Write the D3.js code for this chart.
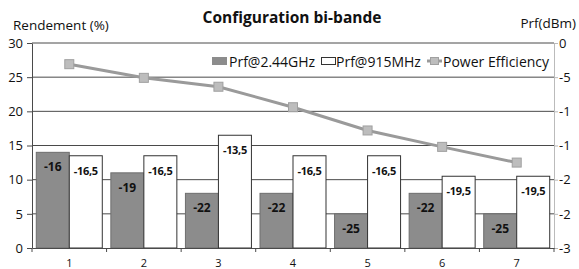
<!DOCTYPE html>
<html>
<head>
<meta charset="utf-8">
<script src="https://cdn.jsdelivr.net/npm/d3@7"></script>
<style>
  body { margin: 0; background: #fff; }
  svg text { font-family: "Open Sans", "DejaVu Sans", sans-serif; fill: #111; }
</style>
</head>
<body>
<div id="chart"></div>
<script>
// data
var categories = ["1", "2", "3", "4", "5", "6", "7"];
var prf244 = [-16, -19, -22, -22, -25, -22, -25];
var prf915 = [-16.5, -16.5, -13.5, -16.5, -16.5, -19.5, -19.5];
var efficiency = [26.9, 24.9, 23.6, 20.6, 17.2, 14.8, 12.5];
var leftTicks = [0, 5, 10, 15, 20, 25, 30];
var rightTicks = [0, -5, -10, -15, -20, -25, -30];
// right axis labels are clipped in the original
var rightTickLabels = ["0", "-5", "-1", "-1", "-2", "-2", "-3"];

var svgWidth = 579;
var svgHeight = 269;
var margin = { top: 43, right: 25, bottom: 21, left: 32 };
var width = svgWidth - margin.left - margin.right;
var height = svgHeight - margin.top - margin.bottom;

var svg = d3.select("#chart")
  .append("svg")
  .attr("width", svgWidth)
  .attr("height", svgHeight);

var chartGroup = svg.append("g")
  .attr("transform", `translate(${margin.left}, ${margin.top})`);

// scales
var xScale = d3.scaleBand()
  .domain(categories)
  .range([0, width])
  .paddingInner(0.115)
  .paddingOuter(0.0575);

var xSub = d3.scaleBand()
  .domain(["a", "b"])
  .range([0, xScale.bandwidth()]);

var yLeft = d3.scaleLinear().domain([0, 30]).range([height, 0]);
var yRight = d3.scaleLinear().domain([-30, 0]).range([height, 0]);

// gridlines
chartGroup.selectAll(".grid")
  .data(leftTicks.filter(d => d > 0))
  .enter()
  .append("line")
  .attr("x1", 0)
  .attr("x2", width)
  .attr("y1", d => yLeft(d))
  .attr("y2", d => yLeft(d))
  .attr("stroke", "#4a4a4a")
  .attr("stroke-width", 1);

// bars 2.44GHz
chartGroup.selectAll(".bar244")
  .data(prf244)
  .enter()
  .append("rect")
  .attr("x", (d, i) => xScale(categories[i]) + xSub("a"))
  .attr("y", d => yRight(d))
  .attr("width", xSub.bandwidth())
  .attr("height", d => height - yRight(d))
  .attr("fill", "#8c8c8c")
  .attr("stroke", "#6e6e6e")
  .attr("stroke-width", 1);

// bars 915MHz
chartGroup.selectAll(".bar915")
  .data(prf915)
  .enter()
  .append("rect")
  .attr("x", (d, i) => xScale(categories[i]) + xSub("b"))
  .attr("y", d => yRight(d))
  .attr("width", xSub.bandwidth())
  .attr("height", d => height - yRight(d))
  .attr("fill", "#fff")
  .attr("stroke", "#333")
  .attr("stroke-width", 1);

// bar labels
function fmt(v) { return String(v).replace(".", ","); }

chartGroup.selectAll(".lab244")
  .data(prf244)
  .enter()
  .append("text")
  .attr("x", (d, i) => xScale(categories[i]) + xSub("a") + xSub.bandwidth() / 2)
  .attr("y", d => yRight(d) + 19)
  .attr("text-anchor", "middle")
  .attr("font-size", "12px")
  .attr("font-weight", "bold")
  .text(d => fmt(d));

chartGroup.selectAll(".lab915")
  .data(prf915)
  .enter()
  .append("text")
  .attr("x", (d, i) => xScale(categories[i]) + xSub("b") + xSub.bandwidth() / 2)
  .attr("y", d => yRight(d) + 19)
  .attr("text-anchor", "middle")
  .attr("font-size", "11px")
  .attr("font-weight", "bold")
  .attr("letter-spacing", "-0.3px")
  .text(d => fmt(d));

// efficiency line
var line = d3.line()
  .x((d, i) => xScale(categories[i]) + xScale.bandwidth() / 2)
  .y(d => yLeft(d));

chartGroup.append("path")
  .datum(efficiency)
  .attr("d", line)
  .attr("fill", "none")
  .attr("stroke", "#9a9a9a")
  .attr("stroke-width", 3);

chartGroup.selectAll(".marker")
  .data(efficiency)
  .enter()
  .append("rect")
  .attr("x", (d, i) => xScale(categories[i]) + xScale.bandwidth() / 2 - 4.5)
  .attr("y", d => yLeft(d) - 4.5)
  .attr("width", 9)
  .attr("height", 9)
  .attr("fill", "#bdbdbd")
  .attr("stroke", "#a0a0a0")
  .attr("stroke-width", 1);

// left axis
var leftAxis = d3.axisLeft(yLeft).tickValues(leftTicks).tickSize(5).tickSizeOuter(0);
var gl = chartGroup.append("g").call(leftAxis);
gl.select(".domain").attr("stroke", "#4a4a4a");
gl.selectAll(".tick line").attr("stroke", "#4a4a4a");
gl.selectAll(".tick text").attr("font-size", "13px").attr("x", -9).attr("fill", "#111");

// right axis
var rightAxis = d3.axisRight(yRight).tickValues(rightTicks).tickSize(4).tickSizeOuter(0)
  .tickFormat((d, i) => rightTickLabels[i]);
var gr = chartGroup.append("g")
  .attr("transform", `translate(${width}, 0)`)
  .call(rightAxis);
gr.select(".domain").attr("stroke", "#bbb");
gr.selectAll(".tick line").attr("stroke", "#bbb");
gr.selectAll(".tick text").attr("font-size", "13px").attr("x", 5).attr("fill", "#111");

// bottom axis
var bottomAxis = d3.axisBottom(xScale).tickSize(0).tickSizeOuter(0);
var gb = chartGroup.append("g")
  .attr("transform", `translate(0, ${height})`)
  .call(bottomAxis);
gb.select(".domain").attr("stroke", "#4a4a4a");
gb.selectAll(".tick text").attr("font-size", "11px").attr("y", 11).attr("fill", "#111");

// boundary ticks between categories
chartGroup.selectAll(".xtick")
  .data(d3.range(categories.length + 1))
  .enter()
  .append("line")
  .attr("x1", d => d * width / categories.length)
  .attr("x2", d => d * width / categories.length)
  .attr("y1", height)
  .attr("y2", height + 4)
  .attr("stroke", "#4a4a4a");

// title and axis titles
svg.append("text")
  .attr("x", 292)
  .attr("y", 23)
  .attr("text-anchor", "middle")
  .attr("font-size", "15.5px")
  .attr("font-weight", "bold")
  .text("Configuration bi-bande");

svg.append("text")
  .attr("x", 13)
  .attr("y", 30)
  .attr("font-size", "13.5px")
  .text("Rendement (%)");

svg.append("text")
  .attr("x", 576)
  .attr("y", 28)
  .attr("text-anchor", "end")
  .attr("font-size", "13.5px")
  .text("Prf(dBm)");

// legend
var legend = svg.append("g").attr("transform", "translate(212, 57)");
legend.append("rect").attr("x", 0).attr("y", 0).attr("width", 15).attr("height", 8)
  .attr("fill", "#8c8c8c");
legend.append("text").attr("x", 17).attr("y", 9.5).attr("font-size", "14px").text("Prf@2.44GHz");
legend.append("rect").attr("x", 109.5).attr("y", 0.5).attr("width", 14).attr("height", 7)
  .attr("fill", "#fff").attr("stroke", "#333");
legend.append("text").attr("x", 124).attr("y", 9.5).attr("font-size", "14px").text("Prf@915MHz");
legend.append("line").attr("x1", 215).attr("x2", 230).attr("y1", 4).attr("y2", 4)
  .attr("stroke", "#9a9a9a").attr("stroke-width", 3);
legend.append("rect").attr("x", 218.5).attr("y", 0.5).attr("width", 8).attr("height", 7)
  .attr("fill", "#bdbdbd").attr("stroke", "#a0a0a0");
legend.append("text").attr("x", 231).attr("y", 9.5).attr("font-size", "14px").text("Power Efficiency");
</script>
</body>
</html>
